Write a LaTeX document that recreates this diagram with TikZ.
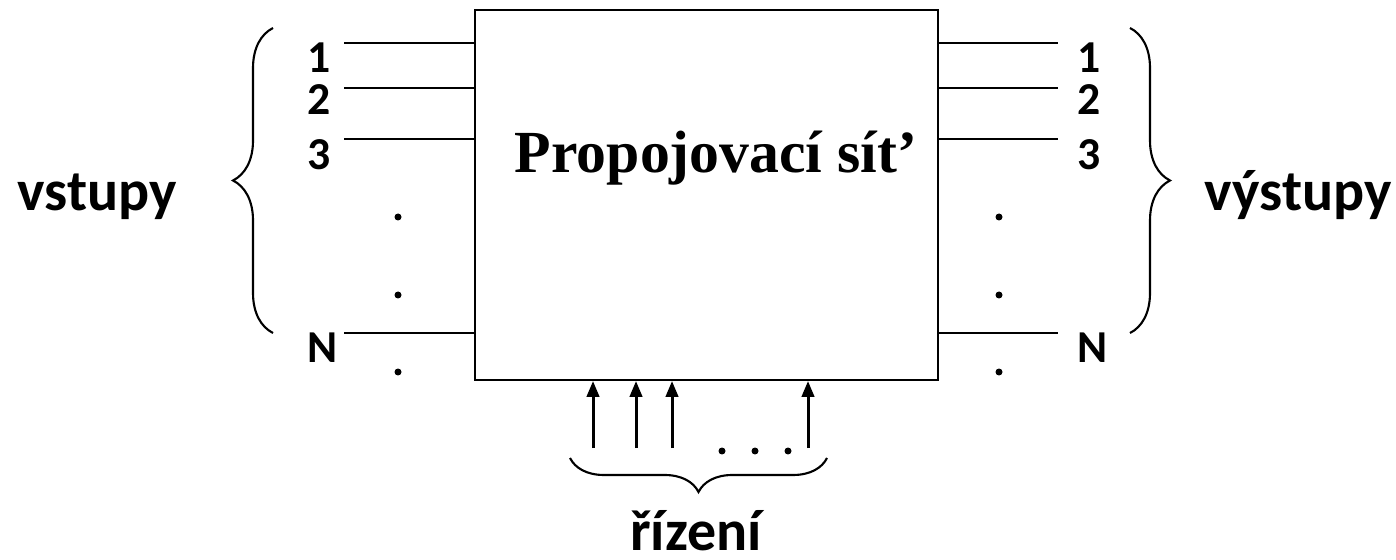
\documentclass[tikz,border=0pt]{standalone}
\usepackage{fontspec}
\setmainfont[Numbers=Lining]{Carlito}
\newfontfamily\serifbold{Liberation Serif}
\usetikzlibrary{arrows.meta, decorations.pathreplacing}

\begin{document}
\begin{tikzpicture}[x=0.02cm, y=-0.02cm, >={Triangle[length=9pt, width=7pt]},
    box/.style={draw, line width=1.2pt, minimum width=9.26cm, minimum height=7.4cm},
    wire/.style={line width=1.7pt},
    num/.style={anchor=base west, inner sep=0pt, font=\bfseries\fontsize{26}{30}\selectfont},
    lbl/.style={anchor=base, inner sep=0pt, font=\bfseries\fontsize{33}{38}\selectfont},
    dot/.style={circle, fill, inner sep=0pt, minimum size=0.14cm},
    brc/.style={decorate, decoration={brace, amplitude=#1}, line width=1.2pt}]
    \useasboundingbox (0,0) rectangle (1396,560);

    % propojovaci sit
    \node[box] (net) at (706.5,195) {};
    \node[anchor=base, font=\serifbold\bfseries\fontsize{34}{40}\selectfont] (title) at (716,173) {Propojovací sít’};

    % vstupy a vystupy
    \foreach \y [count=\i] in {43, 88, 139, 333} {
        \coordinate (in\i) at (344,\y);
        \coordinate (out\i) at (1058,\y);
        \draw[wire] (in\i) -- (in\i -| net.west);
        \draw[wire] (net.east |- out\i) -- (out\i);
    }
    \foreach \y/\t in {73/1, 115/2, 170/3, 363/N} {
        \node[num] (inl\t) at (307,\y) {\t};
        \node[num] (outl\t) at (1077,\y) {\t};
    }
    \foreach \y [count=\i] in {217, 295, 372} {
        \node[dot] (ldot\i) at (398,\y) {};
        \node[dot] (rdot\i) at (999,\y) {};
    }

    % rizeni
    \foreach \x [count=\i] in {593, 636, 672, 808} {
        \coordinate (ctl\i) at (\x,448);
        \draw[wire, ->] (ctl\i) -- (ctl\i |- net.south);
    }
    \foreach \x [count=\i] in {722, 755, 788} {
        \node[dot] (bdot\i) at (\x,451) {};
    }

    % zavorky
    \draw[brc=0.8cm] (273,333) -- (273,28);
    \draw[brc=0.8cm] (1130,28) -- (1130,333);
    \draw[brc=0.68cm] (827,458) -- (570,458);

    \node[lbl] (vst) at (97,211) {vstupy};
    \node[lbl] (vyst) at (1298,211) {výstupy};
    \node[lbl] (riz) at (696,550) {řízení};

\end{tikzpicture}
\end{document}
